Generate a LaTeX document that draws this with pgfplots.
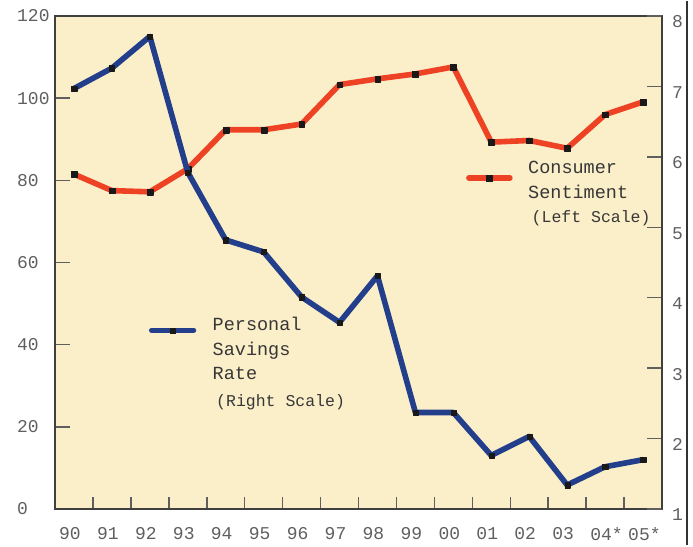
\documentclass[border=0pt]{standalone}
\usepackage{pgfplots}
\pgfplotsset{compat=1.18}
\usepackage{fontspec}
\setmainfont{Liberation Mono}
\definecolor{bg}{RGB}{251,239,202}
\definecolor{sentred}{RGB}{238,66,36}
\definecolor{savblue}{RGB}{35,63,140}
\definecolor{tickgray}{RGB}{95,95,95}
\definecolor{txtgray}{RGB}{55,55,55}
\begin{document}
\begin{tikzpicture}[x=1pt,y=1pt]
\path (-55,-36) rectangle (638,508);
\pgfplotsset{
  common/.style={
    at={(0,0)}, anchor=south west,
    scale only axis, width=607pt, height=493pt,
    xmin=-0.5, xmax=15.5,
    tick align=inside,
    /pgf/number format/assume math mode=true,
    every tick label/.append style={font=\fontsize{18}{20}\selectfont, text=tickgray},
    major tick length=15pt,
    every major y tick/.append style={tickgray, line width=1.5pt},
    axis line style={black!75, line width=1.3pt},
  },
}
\begin{axis}[common,
  ymin=0, ymax=120, ytick={0,20,...,120},
  ytick pos=left, xtick pos=bottom,
  axis background/.style={fill=bg},
  xtick={0,...,15},
  xticklabels={90,91,92,93,94,95,96,97,98,99,00,01,02,03,{04\rlap{*}},{05\rlap{*}}},
  every major x tick/.append style={draw=none},
  minor xtick={0.5,1.5,...,14.5},
  minor tick length=12pt,
  every minor x tick/.append style={tickgray, line width=1.5pt},
  xticklabel style={anchor=north, inner sep=0pt, yshift=-18pt, xshift=-4pt},
  yticklabel style={anchor=west, inner sep=0pt, xshift=-38pt},
]
\addplot[sentred, line width=5.6pt, line join=round, mark=square*, mark size=2.9pt,
  mark options={solid, fill=black!90, draw=black!90, line width=0.1pt}]
  coordinates {(0,81.5) (1,77.5) (2,77.2) (3,82.8) (4,92.3) (5,92.3) (6,93.7) (7,103.3)
  (8,104.7) (9,105.9) (10,107.6) (11,89.3) (12,89.7) (13,87.8) (14,96.0) (15,99.1)};
% legend key for Consumer Sentiment
\addplot[sentred, line width=5.6pt, line cap=round, mark=square*, mark size=2.9pt, mark indices={2},
  mark options={solid, fill=black!90, draw=black!90, line width=0.1pt}]
  coordinates {(10.41,80.6) (10.95,80.6) (11.49,80.6)};
\end{axis}
\begin{axis}[common,
  ymin=1, ymax=8, ytick={1,...,8},
  axis y line*=right, axis x line=none,
  yticklabel style={anchor=west, inner sep=0pt, xshift=10pt, yshift=-6pt},
]
\addplot[savblue, line width=5.6pt, line join=round, mark=square*, mark size=2.6pt,
  mark options={solid, fill=black!90, draw=black!90, line width=0.1pt}]
  coordinates {(0,6.97) (1,7.26) (2,7.71) (3,5.78) (4,4.82) (5,4.65) (6,4.01) (7,3.65)
  (8,4.31) (9,2.37) (10,2.37) (11,1.76) (12,2.03) (13,1.34) (14,1.60) (15,1.70)};
% legend key for Personal Savings Rate
\addplot[savblue, line width=5.6pt, line cap=round, mark=square*, mark size=2.6pt, mark indices={2},
  mark options={solid, fill=black!90, draw=black!90, line width=0.1pt}]
  coordinates {(2.05,3.537) (2.6,3.537) (3.15,3.537)};
\end{axis}
\begin{scope}[every node/.style={anchor=base west, inner sep=0pt, text=txtgray}]
\node[font=\fontsize{18.5}{20}\selectfont] at (473,335) {Consumer};
\node[font=\fontsize{18.5}{20}\selectfont] at (473,310) {Sentiment};
\node[font=\fontsize{16.5}{18}\selectfont] at (476.5,286) {(Left Scale)};
\node[font=\fontsize{18.5}{20}\selectfont] at (157.5,178) {Personal};
\node[font=\fontsize{18.5}{20}\selectfont] at (157.5,153) {Savings};
\node[font=\fontsize{18.5}{20}\selectfont] at (157.5,129) {Rate};
\node[font=\fontsize{16.5}{18}\selectfont] at (161,102) {(Right Scale)};
\end{scope}
\draw[black!80, line width=2pt] (632,508) -- (632,-36);
\end{tikzpicture}
\end{document}
